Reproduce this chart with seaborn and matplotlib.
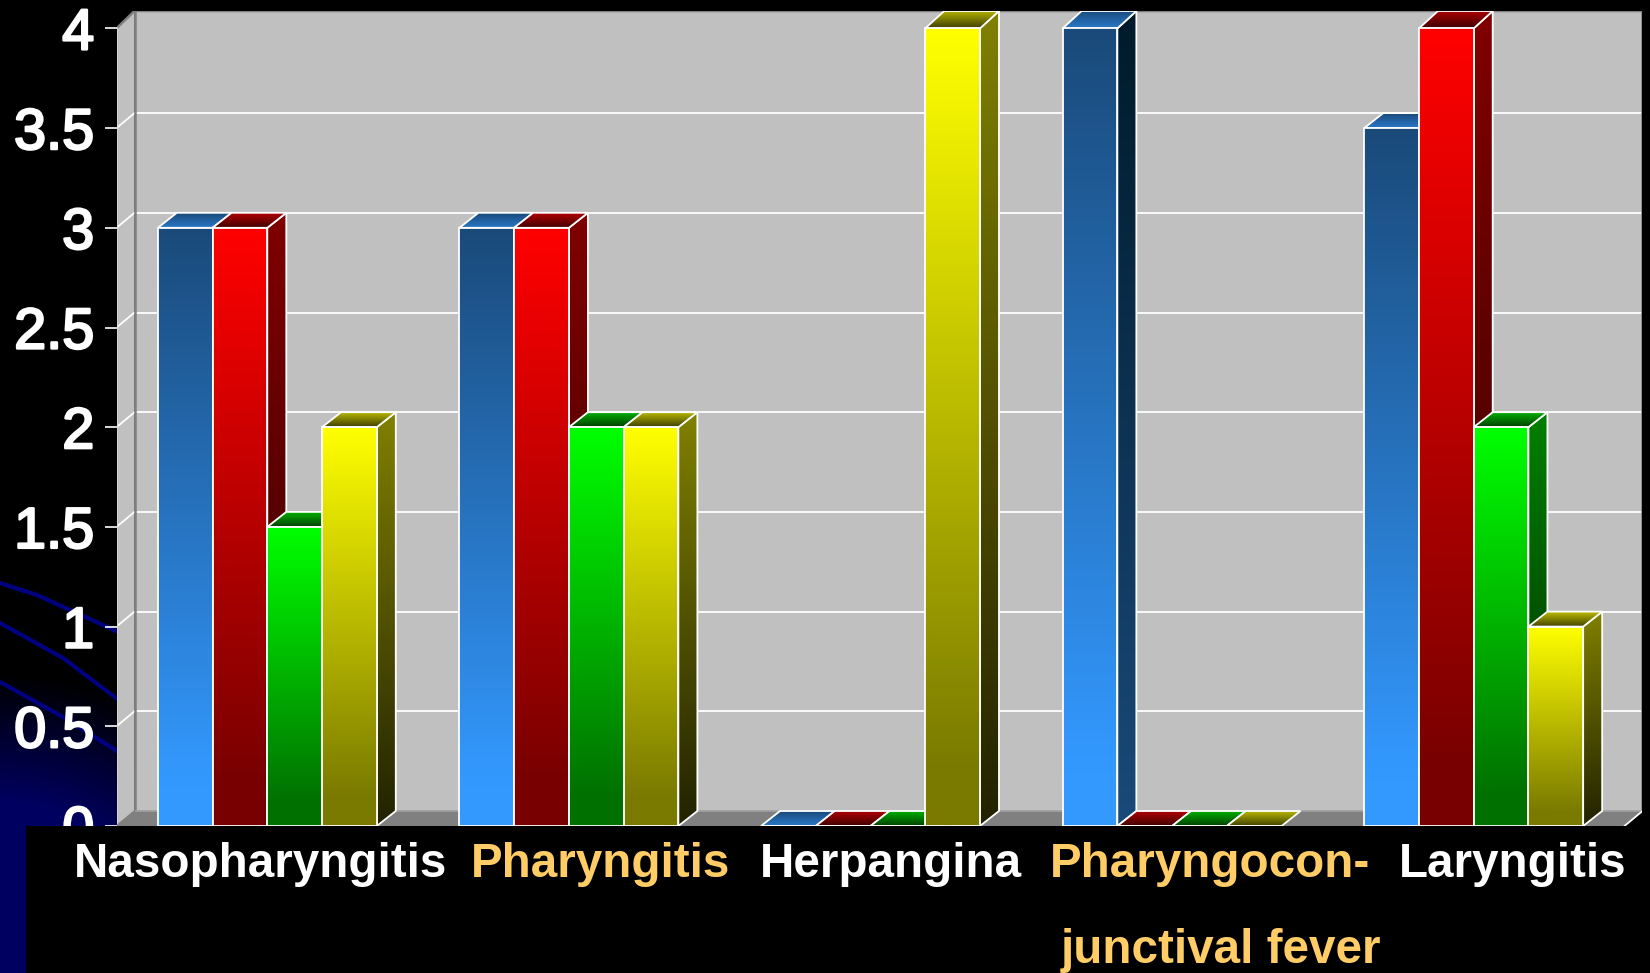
import numpy as np
import pandas as pd
import matplotlib.pyplot as plt
import matplotlib.patheffects as pe
from matplotlib.colors import to_rgb
from matplotlib.patches import Polygon, Rectangle
import seaborn as sns

sns.set_style("white")
plt.rcParams['font.family'] = ['Liberation Sans', 'DejaVu Sans']

diseases = ['Nasopharyngitis', 'Pharyngitis', 'Herpangina', 'Pharyngocon-junctival fever', 'Laryngitis']
blue_vals = [3, 3, 0, 4, 3.5]
red_vals = [3, 3, 0, 0, 4]
green_vals = [1.5, 2, 0, 0, 2]
yellow_vals = [2, 2, 4, 0, 1]
series_names = ['blue', 'red', 'green', 'yellow']
y_ticks = [0, 0.5, 1, 1.5, 2, 2.5, 3, 3.5, 4]
y_labels = ['0', '0.5', '1', '1.5', '2', '2.5', '3', '3.5', '4']

# label text, x, baseline y, colour (pixels, the labels are not centred on the groups)
label_text = ['Nasopharyngitis', 'Pharyngitis', 'Herpangina', 'Pharyngocon-', 'junctival fever', 'Laryngitis']
label_x = [261, 601, 891, 1210, 1221, 1513]
label_y = [877, 877, 877, 877, 963, 877]
label_col = ['white', '#ffcc66', 'white', '#ffcc66', '#ffcc66', 'white']

# front top/bottom, side top/bottom, lid back/front
shades = {
    'blue': ('#1a4a7a', '#3399ff', '#001a2a', '#1a4a7a', '#1a4a7a', '#2a78c8'),
    'red': ('#ff0000', '#780000', '#800000', '#300000', '#b00000', '#400000'),
    'green': ('#00ff00', '#007000', '#008000', '#002800', '#00b000', '#004000'),
    'yellow': ('#ffff00', '#7a7a00', '#808000', '#222200', '#b8b800', '#404000'),
}

# background curves in the slide template
curve1_x, curve1_y = [0, 37, 103, 120], [583, 595, 625, 633]
curve2_x, curve2_y = [0, 63, 120], [623, 658, 701]
curve3_x, curve3_y = [0, 63, 120], [682, 717, 753]

W, H = 1650, 973
fig = plt.figure(figsize=(W / 100, H / 100), dpi=100, facecolor='black')

# slide background
bg = fig.add_axes([0, 0, 1, 1], zorder=0)
yy, xx = np.mgrid[0:H, 0:W]
t = np.clip((300 - np.hypot(xx, yy - H)) / 130, 0, 1)
glow = np.dstack([np.zeros_like(t), np.zeros_like(t), t * 0.38])
bg.imshow(glow, extent=(0, W, H, 0), aspect='auto', interpolation='bilinear')
for cx, cy in [(curve1_x, curve1_y), (curve2_x, curve2_y), (curve3_x, curve3_y)]:
    bg.plot(cx, cy, color='#000080', lw=3)
bg.set_xlim(0, W)
bg.set_ylim(H, 0)
bg.axis('off')

# chart
left, right, top, bottom = 116.5, 1642.5, 11, 826
ax = fig.add_axes([left / W, 1 - bottom / H, (right - left) / W, (bottom - top) / H], zorder=1)
ax.patch.set_alpha(0)

df = pd.DataFrame({'disease': diseases, 'blue': blue_vals, 'red': red_vals,
                   'green': green_vals, 'yellow': yellow_vals})
long_df = df.melt(id_vars='disease', var_name='series', value_name='value')
sns.barplot(data=long_df, x='disease', y='value', hue='series', hue_order=series_names,
            order=diseases, width=0.726, gap=0, saturation=1, dodge=True, legend=False, ax=ax,
            palette={k: v[0] for k, v in shades.items()})

px_x = 301.5
px_y = 199.4
wall_dx = 18 / px_x
bar_dx = 19 / px_x
dy = 15 / px_y
x0, x1 = -0.5, 4.5
y1 = 4
y_top = (bottom - top) / px_y
LW = 1.3


def fill(verts, c_top, c_bottom, z, stop=1.0):
    # vertical gradient clipped to a polygon
    verts = np.array(verts)
    ramp = np.clip(np.linspace(0, 1 / stop, 128), 0, 1)[:, None]
    grad = (np.array(to_rgb(c_top)) * (1 - ramp) + np.array(to_rgb(c_bottom)) * ramp)[:, None, :]
    im = ax.imshow(grad, extent=(verts[:, 0].min(), verts[:, 0].max(), verts[:, 1].min(), verts[:, 1].max()),
                   aspect='auto', interpolation='bilinear', zorder=z)
    im.set_clip_path(Polygon(verts, transform=ax.transData))


def outline(verts, z, color='white', lw=LW):
    ax.add_patch(Polygon(verts, closed=True, fill=False, edgecolor=color, lw=lw, zorder=z, joinstyle='miter'))


# walls and floor
ax.add_patch(Polygon([(x0 + wall_dx, dy), (x1 + wall_dx, dy), (x1 + wall_dx, y_top), (x0 + wall_dx, y_top)],
                     color='#c0c0c0', lw=0, zorder=0.1))
ax.add_patch(Polygon([(x0, 0), (x0 + wall_dx, dy), (x0 + wall_dx, y_top), (x0, y1)], color='#c0c0c0', lw=0, zorder=0.1))
ax.add_patch(Polygon([(x0, 0), (x1, 0), (x1 + wall_dx, dy), (x0 + wall_dx, dy)], color='#808080', lw=0, zorder=0.1))

for v in y_ticks[1:-1]:
    ax.plot([x0 + wall_dx, x1 + wall_dx], [v + dy, v + dy], color='white', lw=LW, zorder=0.2)
    ax.plot([x0, x0 + wall_dx], [v, v + dy], color='white', lw=LW, zorder=0.2)
ax.plot([x0, x0 + wall_dx, x1 + wall_dx, x1 + wall_dx], [y1, y_top, y_top, dy], color='#808080', lw=1.8, zorder=0.3)
ax.plot([x0 + wall_dx, x0 + wall_dx], [dy, y_top], color='#808080', lw=1.8, zorder=0.3)
ax.plot([x0 + wall_dx, x1 + wall_dx], [dy, dy], color='#a0a0a0', lw=1.2, zorder=0.3)
ax.plot([x0, x0], [0, y1], color='#d8d8d8', lw=1.2, zorder=0.3)
ax.plot([x0, x0 + wall_dx], [0, dy], color='#808080', lw=1.2, zorder=0.3)
ax.plot([x1, x1 + wall_dx], [0, dy], color='white', lw=LW, zorder=0.3)

# seaborn gives the fronts, extrude each bar left to right so neighbours overlap properly
n_groups = len(diseases)
bars = list(ax.patches)[:n_groups * len(series_names)]
named = []
for i, name in enumerate(series_names):
    named += [(bars[i * n_groups + j], name) for j in range(n_groups)]
named.sort(key=lambda b: b[0].get_x())

z = 1.0
for bar, name in named:
    xa, w, h = bar.get_x(), bar.get_width(), bar.get_height()
    xb = xa + w
    back = y_top if h >= y1 else h + dy
    front_t, front_b, side_t, side_b, lid_back, lid_front = shades[name]
    side = [(xb, 0), (xb + bar_dx, dy), (xb + bar_dx, back), (xb, h)]
    lid = [(xa, h), (xb, h), (xb + bar_dx, back), (xa + bar_dx, back)]
    if h > 0:
        fill(side, side_t, side_b, z)
        outline(side, z + 0.1)
    fill(lid, lid_back, lid_front, z + 0.2)
    outline(lid, z + 0.3)
    if h > 0:
        fill([(xa, 0), (xb, 0), (xb, h), (xa, h)], front_t, front_b, z + 0.4, stop=0.93)
    bar.set_facecolor('none')
    bar.set_edgecolor('white')
    bar.set_linewidth(LW)
    bar.set_zorder(z + 0.5)
    z += 1

ax.set_xlim(x0, x1 + wall_dx)
ax.set_ylim(0, y_top)
ax.set_xlabel('')
ax.set_ylabel('')
ax.set_xticks([])
ax.set_yticks(y_ticks)
ax.set_yticklabels(y_labels, color='white', fontsize=41.5, fontweight='normal')
for lab in ax.get_yticklabels():
    lab.set_path_effects([pe.withStroke(linewidth=1.7, foreground='white')])
ax.tick_params(axis='y', left=True, color='white', length=9, width=1.2, pad=7)
sns.despine(ax=ax, left=True, bottom=True, top=True, right=True)

# black strip over the foot of the chart, holds the category names
cover = fig.add_axes([0, 0, 1, 1], zorder=2)
cover.patch.set_alpha(0)
cover.set_xlim(0, W)
cover.set_ylim(H, 0)
cover.axis('off')
cover.add_patch(Rectangle((26, bottom), W - 26, H - bottom, color='black', lw=0))
for s, lx, ly, c in zip(label_text, label_x, label_y, label_col):
    cover.text(lx, ly, s, color=c, fontsize=34.3, fontweight='bold', ha='center', va='baseline')

fig.savefig('out.png', dpi=100, facecolor='black')
